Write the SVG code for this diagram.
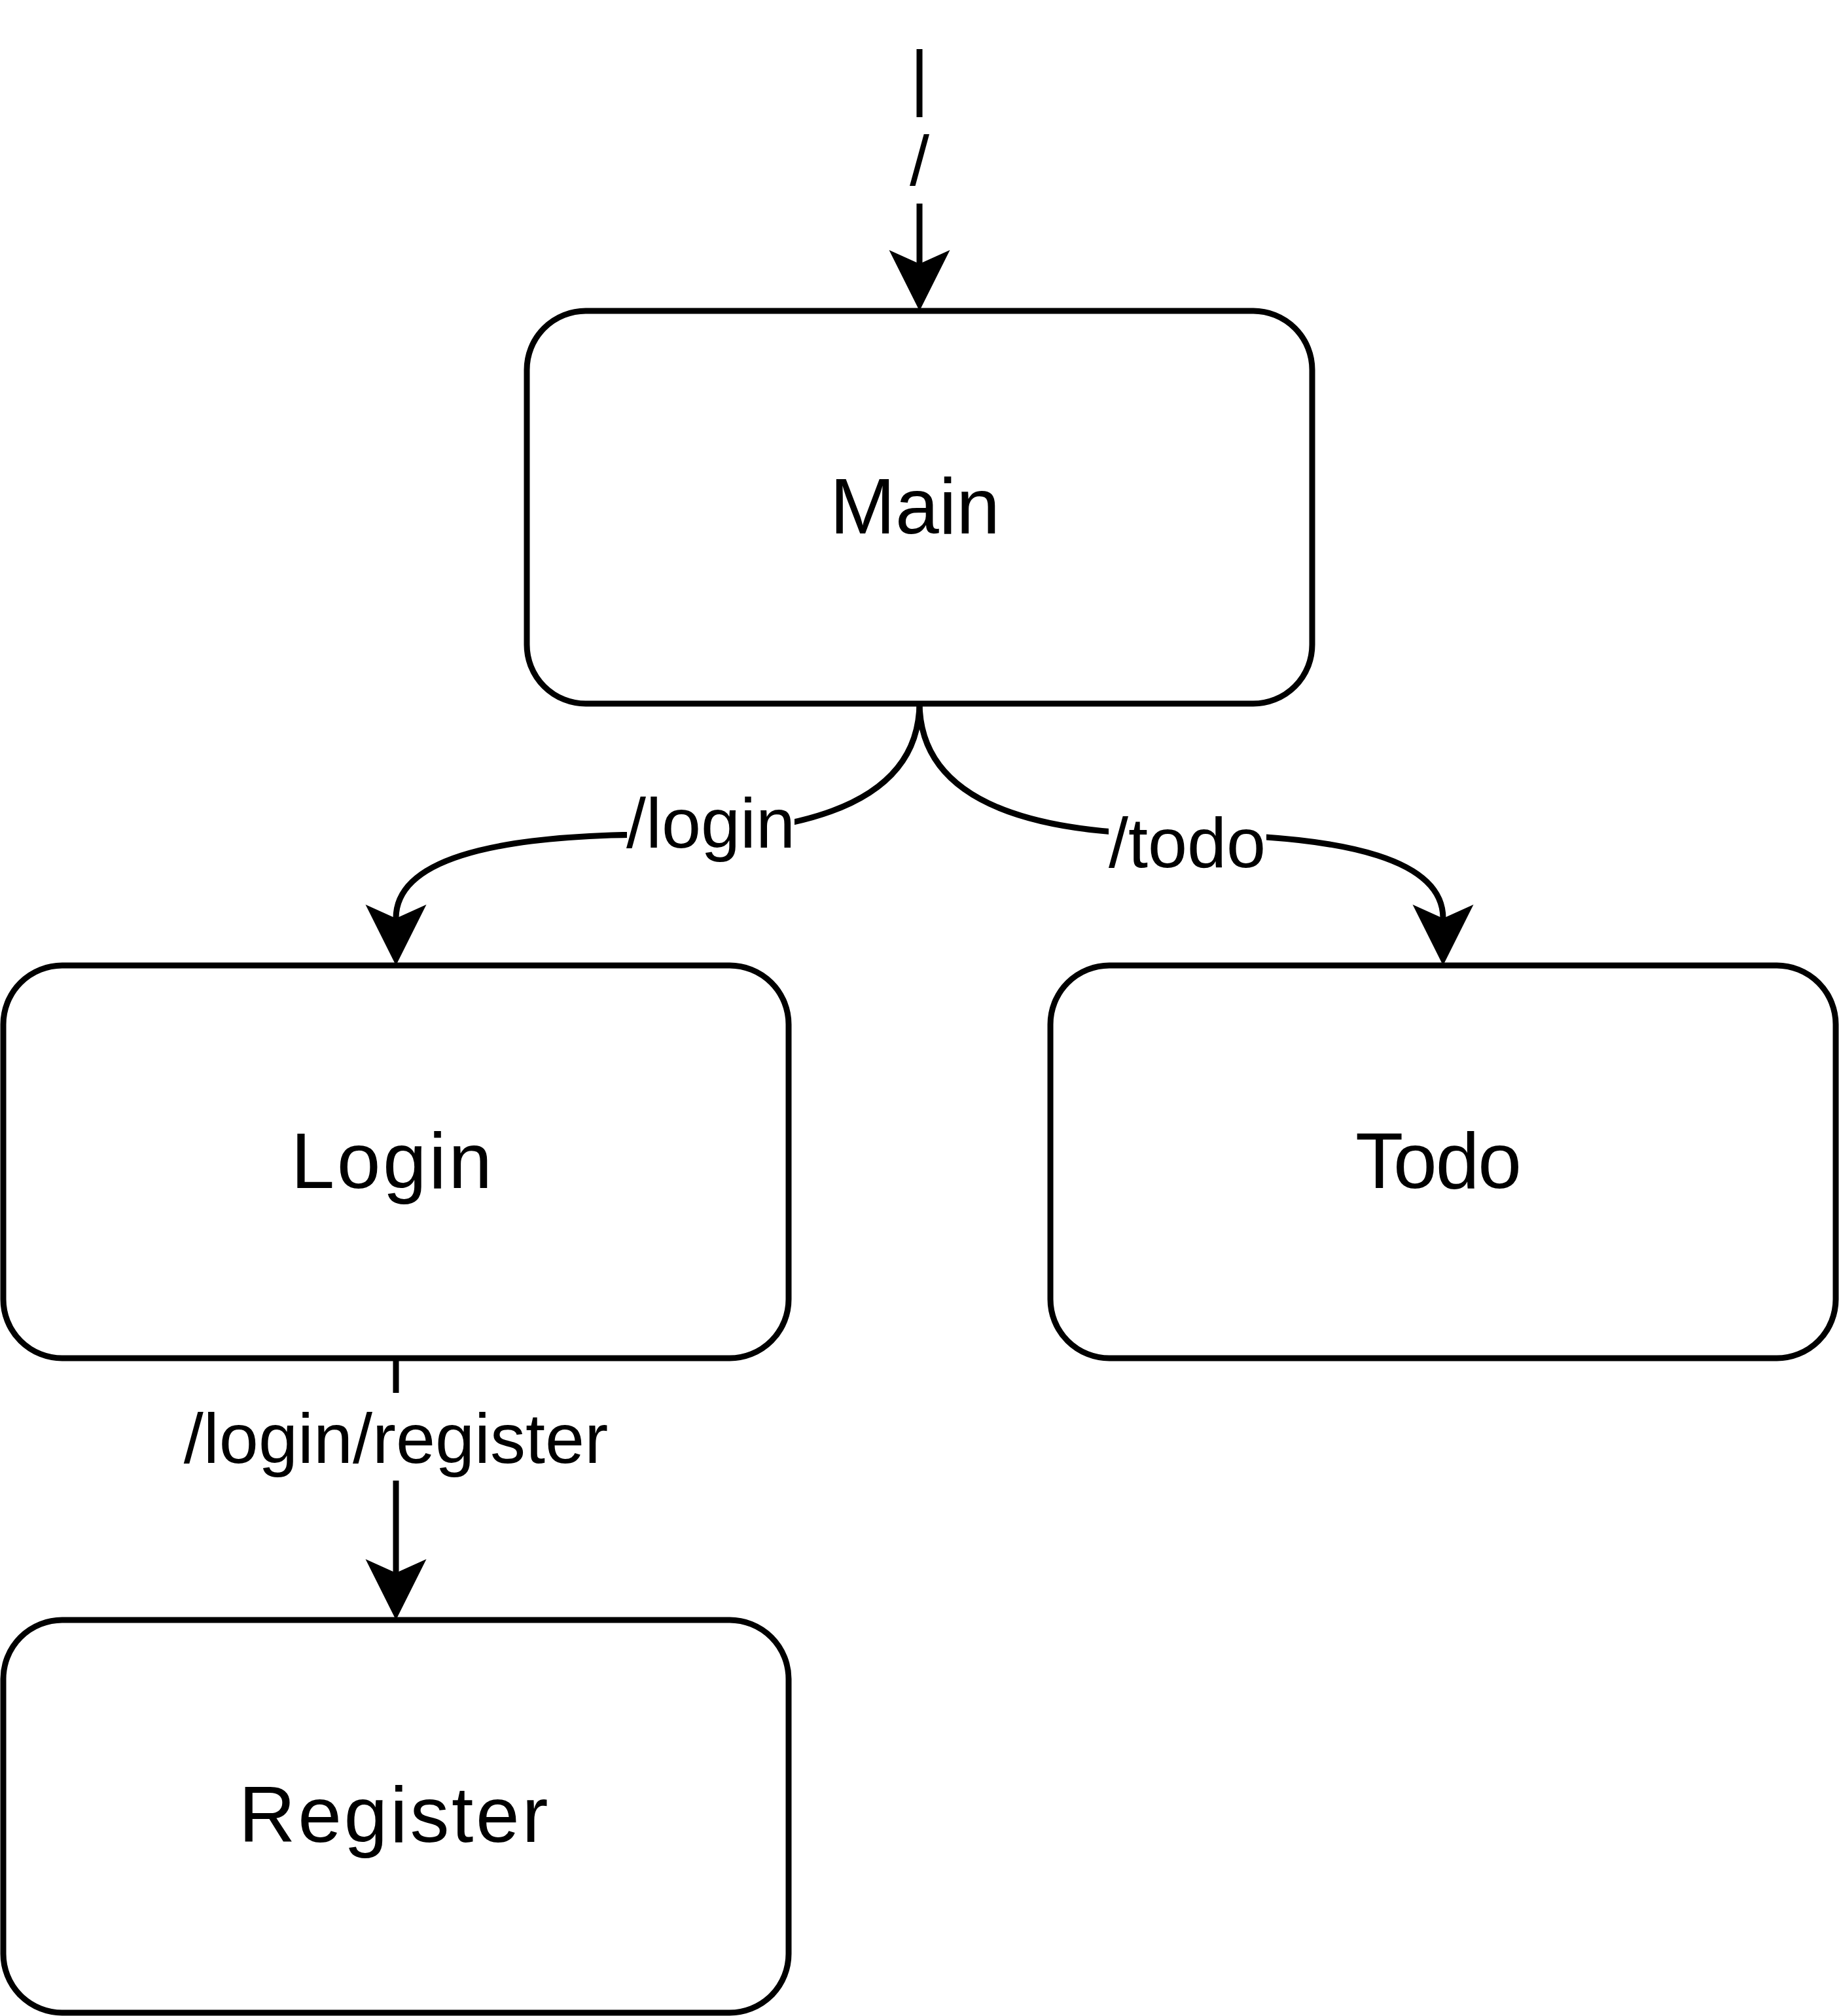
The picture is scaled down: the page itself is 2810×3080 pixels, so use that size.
<svg xmlns="http://www.w3.org/2000/svg" width="2810" height="3080" viewBox="0 0 2810 3080">
  <style>
    .node rect { fill: #ffffff; stroke: #000000; stroke-width: 9; }
    .node text { font-family: "Liberation Sans", Arial, Helvetica, sans-serif; font-size: 120px; fill: #000000; text-anchor: middle; }
    .edge { fill: none; stroke: #000000; stroke-width: 9; marker-end: url(#arrow); }
    .lblbg { fill: #ffffff; stroke: none; }
    .lbl { font-family: "Liberation Sans", Arial, Helvetica, sans-serif; font-size: 108px; fill: #000000; text-anchor: middle; }
  </style>
  <defs>
    <marker id="arrow" markerUnits="userSpaceOnUse" viewBox="-30 -50 110 100" markerWidth="110" markerHeight="100" refX="0" refY="0" orient="auto" overflow="visible">
      <path d="M72,0 L-21,-46.5 L0,0 L-21,46.5 Z" fill="#000000" stroke="none"/>
    </marker>
  </defs>
  <rect x="0" y="0" width="2810" height="3080" fill="#ffffff"/>

  <g id="connectors">
    <path class="edge" d="M1405,75 L1405,403"/>
    <path class="edge" d="M1405,1073 Q1405,1275 1005,1275 Q605,1275 605,1403"/>
    <path class="edge" d="M1405,1073 Q1405,1275 1805,1275 Q2205,1275 2205,1403"/>
    <path class="edge" d="M605,2075 L605,2403"/>

    <rect class="lblbg" x="1388" y="179" width="34" height="132"/>
    <text class="lbl" x="1405" y="283">/</text>

    <rect class="lblbg" x="958" y="1189" width="256" height="134"/>
    <text class="lbl" x="1086" y="1295">/login</text>

    <rect class="lblbg" x="1694" y="1219" width="241" height="134"/>
    <text class="lbl" x="1814" y="1325">/todo</text>

    <rect class="lblbg" x="281" y="2128" width="648" height="134"/>
    <text class="lbl" x="605" y="2235">/login/register</text>
  </g>

  <g id="node-main" class="node">
    <rect x="805" y="475" width="1200" height="600" rx="90" ry="90"/>
    <text x="1398" y="815">Main</text>
  </g>
  <g id="node-login" class="node">
    <rect x="5" y="1475" width="1200" height="600" rx="90" ry="90"/>
    <text x="600" y="1815" letter-spacing="3.5">Login</text>
  </g>
  <g id="node-todo" class="node">
    <rect x="1605" y="1475" width="1200" height="600" rx="90" ry="90"/>
    <text x="2197" y="1815" letter-spacing="-2">Todo</text>
  </g>
  <g id="node-register" class="node">
    <rect x="5" y="2475" width="1200" height="600" rx="90" ry="90"/>
    <text x="603" y="2814" letter-spacing="3.7">Register</text>
  </g>
</svg>
